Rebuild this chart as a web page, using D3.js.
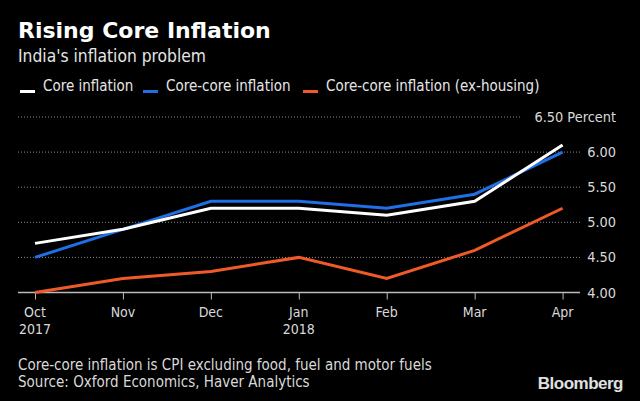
<!DOCTYPE html>
<html>
<head>
<meta charset="utf-8">
<script src="https://cdn.jsdelivr.net/npm/d3@7"></script>
<style>
  body { margin: 0; background: #000; }
  svg { display: block; font-family: "DejaVu Sans Condensed", "DejaVu Sans", sans-serif; }
</style>
</head>
<body>
<div id="chart"></div>
<script>
// data
const months = ["Oct", "Nov", "Dec", "Jan", "Feb", "Mar", "Apr"];
const years = ["2017", "", "", "2018", "", "", ""];
const coreInflation = [4.7, 4.9, 5.2, 5.2, 5.1, 5.3, 6.1];
const coreCoreInflation = [4.5, 4.9, 5.3, 5.3, 5.2, 5.4, 6.0];
const coreCoreExHousing = [4.0, 4.2, 4.3, 4.5, 4.2, 4.6, 5.2];
const yTicks = [4.0, 4.5, 5.0, 5.5, 6.0, 6.5];

const seriesNames = ["Core inflation", "Core-core inflation", "Core-core inflation (ex-housing)"];
const seriesColors = ["#ffffff", "#1f6fe5", "#f05a28"];
const seriesData = [coreInflation, coreCoreInflation, coreCoreExHousing];

const width = 640, height = 401;

const svg = d3.select("#chart").append("svg")
    .attr("width", width)
    .attr("height", height);

svg.append("rect").attr("width", width).attr("height", height).attr("fill", "#000");

// title block
svg.append("text")
    .attr("x", 18).attr("y", 38)
    .attr("fill", "#fff")
    .attr("font-size", 22)
    .attr("font-weight", "bold")
    .attr("font-family", "DejaVu Sans, sans-serif")
    .text("Rising Core Inflation");

svg.append("text")
    .attr("x", 18).attr("y", 62)
    .attr("fill", "#e6e6e6")
    .attr("font-size", 17.3)
    .text("India's inflation problem");

// legend
const legendX = [20, 143, 303];
const legend = svg.append("g").attr("class", "legend");
seriesNames.forEach((name, i) => {
    legend.append("rect")
        .attr("x", legendX[i]).attr("y", 90)
        .attr("width", 15).attr("height", 3)
        .attr("fill", seriesColors[i]);
    legend.append("text")
        .attr("x", legendX[i] + 23).attr("y", 91)
        .attr("fill", "#e6e6e6")
        .attr("font-size", 15)
        .text(name);
});

// scales
const x = d3.scalePoint()
    .domain(months)
    .range([35, 562.6]);

const y = d3.scaleLinear()
    .domain([4.0, 6.5])
    .range([292.5, 117]);

// gridlines
const grid = svg.append("g").attr("class", "grid");
grid.selectAll("line")
    .data(yTicks.filter(d => d > 4.0))
    .enter().append("line")
    .attr("x1", 18)
    .attr("x2", d => d === 6.5 ? 522 : 580)
    .attr("y1", d => y(d))
    .attr("y2", d => y(d))
    .attr("stroke", "#8a8a8a")
    .attr("stroke-width", 1)
    .attr("stroke-dasharray", "1,2");

// y labels
svg.append("g").selectAll("text")
    .data(yTicks)
    .enter().append("text")
    .attr("x", 616)
    .attr("y", d => y(d) + 5)
    .attr("text-anchor", "end")
    .attr("fill", "#d9d9d9")
    .attr("font-size", 14.4)
    .text(d => d === 6.5 ? d3.format(".2f")(d) + " Percent" : d3.format(".2f")(d));

// x axis
const xAxis = svg.append("g")
    .attr("transform", `translate(0, ${y(4.0)})`)
    .call(d3.axisBottom(x).tickSize(7).tickFormat(""));
xAxis.select(".domain").remove();
xAxis.selectAll(".tick line").attr("stroke", "#bbb").attr("stroke-width", 1);
xAxis.append("line")
    .attr("x1", 18).attr("x2", 580)
    .attr("stroke", "#bbb").attr("stroke-width", 1.5);

svg.append("g").selectAll("text")
    .data(months)
    .enter().append("text")
    .attr("x", d => x(d))
    .attr("y", 317)
    .attr("text-anchor", "middle")
    .attr("fill", "#d9d9d9")
    .attr("font-size", 14)
    .text(d => d);

svg.append("g").selectAll("text")
    .data(months.map((m, i) => ({m, yr: years[i]})).filter(d => d.yr))
    .enter().append("text")
    .attr("x", d => x(d.m))
    .attr("y", 334)
    .attr("text-anchor", "middle")
    .attr("fill", "#d9d9d9")
    .attr("font-size", 14)
    .text(d => d.yr);

// lines, drawn orange first so white sits on top like the reference
const line = d3.line()
    .x((d, i) => x(months[i]))
    .y(d => y(d));

[2, 1, 0].forEach(i => {
    svg.append("path")
        .datum(seriesData[i])
        .attr("fill", "none")
        .attr("stroke", seriesColors[i])
        .attr("stroke-width", 3)
        .attr("stroke-linejoin", "miter")
        .attr("d", line);
});

// footnotes
svg.append("text")
    .attr("x", 18).attr("y", 370)
    .attr("fill", "#d9d9d9")
    .attr("font-size", 15)
    .text("Core-core inflation is CPI excluding food, fuel and motor fuels");

svg.append("text")
    .attr("x", 18).attr("y", 387)
    .attr("fill", "#d9d9d9")
    .attr("font-size", 15)
    .text("Source: Oxford Economics, Haver Analytics");

svg.append("text")
    .attr("x", 623).attr("y", 389)
    .attr("text-anchor", "end")
    .attr("fill", "#e0e0e0")
    .attr("font-size", 17)
    .attr("font-weight", "bold")
    .attr("font-family", "Liberation Sans, Arial, sans-serif")
    .attr("letter-spacing", -0.5)
    .text("Bloomberg");
</script>
</body>
</html>
